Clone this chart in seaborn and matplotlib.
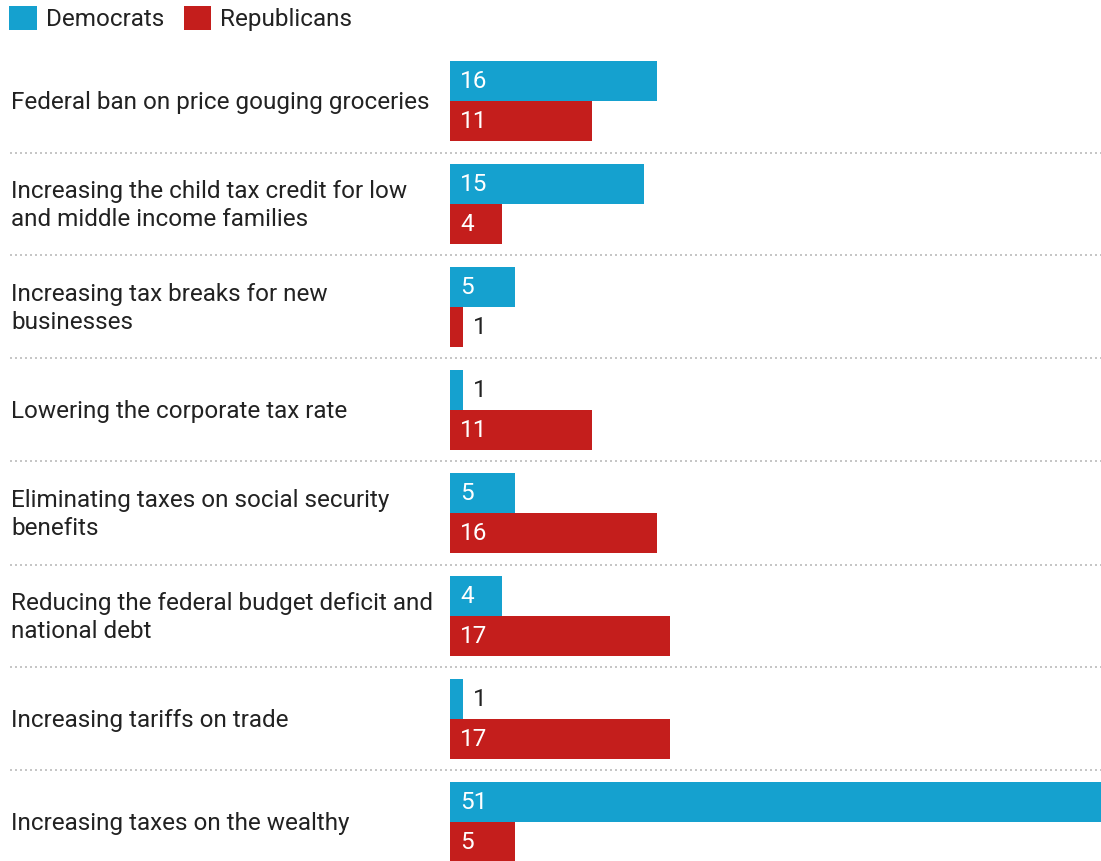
import matplotlib
matplotlib.use("Agg")
import matplotlib.pyplot as plt
import seaborn as sns
import pandas as pd
from matplotlib.patches import Patch

categories = [
    "Federal ban on price gouging groceries",
    "Increasing the child tax credit for low\nand middle income families",
    "Increasing tax breaks for new\nbusinesses",
    "Lowering the corporate tax rate",
    "Eliminating taxes on social security\nbenefits",
    "Reducing the federal budget deficit and\nnational debt",
    "Increasing tariffs on trade",
    "Increasing taxes on the wealthy",
]
democrats = [16, 15, 5, 1, 5, 4, 1, 51]
republicans = [11, 4, 1, 11, 16, 17, 17, 5]
parties = ["Democrats", "Republicans"]
colors = {"Democrats": "#15a1cf", "Republicans": "#c41e1c"}

rows = []
for c, d, r in zip(categories, democrats, republicans):
    rows.append({"issue": c, "party": "Democrats", "value": d})
    rows.append({"issue": c, "party": "Republicans", "value": r})
df = pd.DataFrame(rows)

sns.set_theme(style="white")
plt.rcParams["font.family"] = ["Roboto", "DejaVu Sans"]

W, H = 1101, 861
fig = plt.figure(figsize=(W / 100, H / 100), dpi=100)
ax = fig.add_axes([450 / W, 0, 1 - 450 / W, 1])

sns.barplot(data=df, y="issue", x="value", hue="party", orient="h",
            palette=colors, saturation=1, width=80 / 103, legend=False,
            order=categories, hue_order=parties, ax=ax, linewidth=0)

xmax = 51 * 651 / 660
ax.set_xlim(0, xmax)
ax.set_ylim(7 + 39 / 103, -101 / 103)
ax.set_xlabel("")
ax.set_ylabel("")
ax.set_xticks([])
ax.set_yticks([])
for s in ax.spines.values():
    s.set_visible(False)
ax.patch.set_alpha(0)

text_color = "#222222"
fs = 17.5
px_per_unit = 651 / xmax

for cont in ax.containers:
    for bar in cont:
        v = bar.get_width()
        yc = bar.get_y() + bar.get_height() / 2
        if v > 2:
            ax.annotate(f"{int(round(v))}", (0, yc), xytext=(7.5, -0.5),
                        textcoords="offset points", va="center", ha="left",
                        color="white", fontsize=fs)
        else:
            ax.annotate(f"{int(round(v))}", (v, yc), xytext=(7, -0.5),
                        textcoords="offset points", va="center", ha="left",
                        color=text_color, fontsize=fs)

# category labels
for i, c in enumerate(categories):
    ax.annotate(c, (-(450 - 11) / px_per_unit, i), xytext=(0, -1),
                textcoords="offset points", ha="left", va="center",
                fontsize=fs, color=text_color, linespacing=1.32,
                annotation_clip=False)

# dotted separators
x0 = (10 - 450) / 651
for i in range(len(categories) - 1):
    ax.axhline(i + 0.5, xmin=x0, xmax=1, color="#bbbbbb", lw=1.2,
               ls=(0, (1.2, 1.8)), clip_on=False)

handles = [Patch(facecolor=colors[p], edgecolor="none", label=p) for p in parties]
fig.legend(handles=handles, loc="upper left", bbox_to_anchor=(0.003, 1.0),
           ncol=2, frameon=False, fontsize=fs, handlelength=1.15,
           handleheight=1.15, handletextpad=0.35, columnspacing=0.8,
           borderaxespad=0.0, borderpad=0.25, labelcolor=text_color)

fig.savefig("out.png", dpi=100)
